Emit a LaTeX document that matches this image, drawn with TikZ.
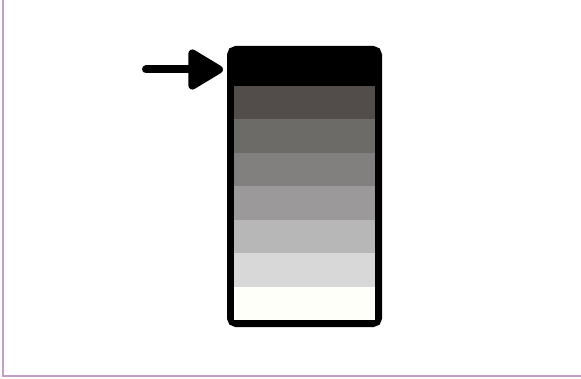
\documentclass[tikz,border=0pt]{standalone}
\usepackage{xcolor}
\usetikzlibrary{arrows.meta, positioning, calc}
\definecolor{ShadeA}{RGB}{82, 77, 74}
\definecolor{ShadeB}{RGB}{108, 107, 104}
\definecolor{ShadeC}{RGB}{129, 128, 127}
\definecolor{ShadeD}{RGB}{155, 153, 153}
\definecolor{ShadeE}{RGB}{183, 183, 183}
\definecolor{ShadeF}{RGB}{216, 216, 216}
\definecolor{ShadeG}{RGB}{255, 255, 249}
\definecolor{EdgeLilac}{RGB}{196, 158, 196}

\begin{document}
\begin{tikzpicture}[
  x=0.75pt, y=-0.75pt,
  tube/.style={
    rectangle, rounded corners=4pt,
    draw=black, fill=black, line width=5.25pt,
    minimum width=111pt, minimum height=205.5pt,
    inner sep=0pt
  },
  band/.style={
    rectangle, draw=none, inner sep=0pt, outer sep=0pt,
    minimum width=105.75pt, minimum height=25.07pt
  },
  pointer/.style={-{Triangle[length=29pt, width=33pt, round]}, line width=6pt, line cap=round},
  edge/.style={draw=EdgeLilac, line width=1pt}
]
  \useasboundingbox (0,0) rectangle (581,378);

  % page edges
  \coordinate (top)    at (3,0);
  \coordinate (corner) at (3,376);
  \coordinate (right)  at (581,376);
  \draw[edge] (top) -- (corner) -- (right);

  % the column
  \node[tube] (box) at (304.5,186.5) {};
  \node[band, fill=ShadeA, below=30pt of box.north] (b1) {};
  \node[band, fill=ShadeB, below=0pt of b1] (b2) {};
  \node[band, fill=ShadeC, below=0pt of b2] (b3) {};
  \node[band, fill=ShadeD, below=0pt of b3] (b4) {};
  \node[band, fill=ShadeE, below=0pt of b4] (b5) {};
  \node[band, fill=ShadeF, below=0pt of b5] (b6) {};
  \node[band, fill=ShadeG, below=0pt of b6] (b7) {};

  % arrow onto the top cell
  \coordinate (aim)  at ($(box.north west)+(-4,23.5)$);
  \coordinate (tail) at ($(aim)+(-77,0)$);
  \draw[pointer] (tail) -- (aim);
\end{tikzpicture}
\end{document}
